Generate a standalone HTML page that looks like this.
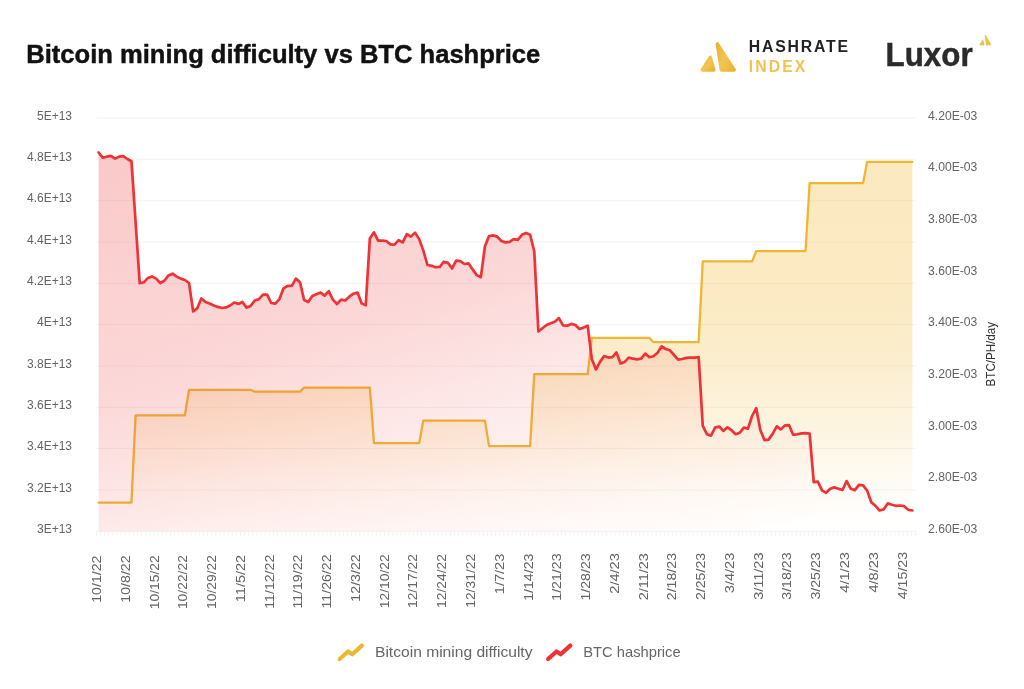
<!DOCTYPE html>
<html><head><meta charset="utf-8"><title>Bitcoin mining difficulty vs BTC hashprice</title>
<style>
html,body{margin:0;padding:0;background:#fff;}
body{width:1024px;height:689px;overflow:hidden;}
svg{display:block;font-family:"Liberation Sans",Arial,sans-serif;}
</style></head><body>
<svg width="1024" height="689" viewBox="0 0 1024 689">
<defs>
<linearGradient id="gy" gradientUnits="userSpaceOnUse" x1="0" y1="161" x2="0" y2="531">
<stop offset="0" stop-color="#f2c04a" stop-opacity="0.35"/>
<stop offset="0.376" stop-color="#f2c04a" stop-opacity="0.33"/>
<stop offset="0.54" stop-color="#f2c04a" stop-opacity="0.27"/>
<stop offset="0.73" stop-color="#f2c04a" stop-opacity="0.16"/>
<stop offset="0.865" stop-color="#f2c04a" stop-opacity="0.055"/>
<stop offset="1" stop-color="#f2c04a" stop-opacity="0"/>
</linearGradient>
<linearGradient id="gr" gradientUnits="userSpaceOnUse" x1="98" y1="152" x2="272" y2="728">
<stop offset="0" stop-color="#ef4444" stop-opacity="0.29"/>
<stop offset="0.4" stop-color="#ef4444" stop-opacity="0.21"/>
<stop offset="0.58" stop-color="#ef4444" stop-opacity="0.12"/>
<stop offset="0.75" stop-color="#ef4444" stop-opacity="0.05"/>
<stop offset="0.93" stop-color="#ef4444" stop-opacity="0"/>
</linearGradient>
<linearGradient id="lg" x1="0" y1="0" x2="1" y2="1"><stop offset="0" stop-color="#eab42c"/><stop offset="0.5" stop-color="#f1c556"/><stop offset="1" stop-color="#ebb32a"/></linearGradient>
</defs>
<rect width="1024" height="689" fill="#fff"/>
<text x="26.3" y="63.2" font-size="25" font-weight="700" fill="#111" stroke="#111" stroke-width="0.45" textLength="514" lengthAdjust="spacingAndGlyphs">Bitcoin mining difficulty vs BTC hashprice</text>
<g fill="url(#lg)" stroke="url(#lg)" stroke-width="3.4" stroke-linejoin="round">
<path d="M710.3,57.3 L702.3,70.0 L713.8,70.0 Z"/>
<path d="M717.3,43.9 L721.3,70.0 L734.2,70.0 Z"/>
</g>
<text x="748.8" y="51.7" font-size="15.8" font-weight="700" fill="#222" textLength="99.3" lengthAdjust="spacing">HASHRATE</text>
<text x="748.8" y="71.8" font-size="15.8" font-weight="700" fill="#f0c24e" textLength="56.6" lengthAdjust="spacing">INDEX</text>
<text x="885.6" y="65.7" font-size="33.5" font-weight="700" fill="#2b2b2b" stroke="#2b2b2b" stroke-width="0.5" textLength="87" lengthAdjust="spacingAndGlyphs">Luxor</text>
<g fill="#efbf45" stroke="#efbf45" stroke-width="1" stroke-linejoin="round">
<path d="M982.8,40.3 L979.8,44.8 L984.0,44.8 Z"/>
<path d="M985.3,35.2 L986.5,44.8 L990.8,44.8 Z"/>
</g>
<g stroke="#f3f3f3" stroke-width="1"><line x1="96.4" x2="915.5" y1="118.00" y2="118.00"/><line x1="96.4" x2="915.5" y1="159.33" y2="159.33"/><line x1="96.4" x2="915.5" y1="200.66" y2="200.66"/><line x1="96.4" x2="915.5" y1="241.99" y2="241.99"/><line x1="96.4" x2="915.5" y1="283.32" y2="283.32"/><line x1="96.4" x2="915.5" y1="324.65" y2="324.65"/><line x1="96.4" x2="915.5" y1="365.98" y2="365.98"/><line x1="96.4" x2="915.5" y1="407.31" y2="407.31"/><line x1="96.4" x2="915.5" y1="448.64" y2="448.64"/><line x1="96.4" x2="915.5" y1="489.97" y2="489.97"/><line x1="96.4" x2="915.5" y1="531.30" y2="531.30"/></g>
<g stroke="#f1f1f1" stroke-width="1"><line x1="96.40" x2="96.40" y1="531.3" y2="535.5"/><line x1="100.52" x2="100.52" y1="531.3" y2="535.5"/><line x1="104.63" x2="104.63" y1="531.3" y2="535.5"/><line x1="108.75" x2="108.75" y1="531.3" y2="535.5"/><line x1="112.86" x2="112.86" y1="531.3" y2="535.5"/><line x1="116.98" x2="116.98" y1="531.3" y2="535.5"/><line x1="121.10" x2="121.10" y1="531.3" y2="535.5"/><line x1="125.21" x2="125.21" y1="531.3" y2="535.5"/><line x1="129.33" x2="129.33" y1="531.3" y2="535.5"/><line x1="133.44" x2="133.44" y1="531.3" y2="535.5"/><line x1="137.56" x2="137.56" y1="531.3" y2="535.5"/><line x1="141.68" x2="141.68" y1="531.3" y2="535.5"/><line x1="145.79" x2="145.79" y1="531.3" y2="535.5"/><line x1="149.91" x2="149.91" y1="531.3" y2="535.5"/><line x1="154.02" x2="154.02" y1="531.3" y2="535.5"/><line x1="158.14" x2="158.14" y1="531.3" y2="535.5"/><line x1="162.26" x2="162.26" y1="531.3" y2="535.5"/><line x1="166.37" x2="166.37" y1="531.3" y2="535.5"/><line x1="170.49" x2="170.49" y1="531.3" y2="535.5"/><line x1="174.60" x2="174.60" y1="531.3" y2="535.5"/><line x1="178.72" x2="178.72" y1="531.3" y2="535.5"/><line x1="182.84" x2="182.84" y1="531.3" y2="535.5"/><line x1="186.95" x2="186.95" y1="531.3" y2="535.5"/><line x1="191.07" x2="191.07" y1="531.3" y2="535.5"/><line x1="195.18" x2="195.18" y1="531.3" y2="535.5"/><line x1="199.30" x2="199.30" y1="531.3" y2="535.5"/><line x1="203.42" x2="203.42" y1="531.3" y2="535.5"/><line x1="207.53" x2="207.53" y1="531.3" y2="535.5"/><line x1="211.65" x2="211.65" y1="531.3" y2="535.5"/><line x1="215.76" x2="215.76" y1="531.3" y2="535.5"/><line x1="219.88" x2="219.88" y1="531.3" y2="535.5"/><line x1="224.00" x2="224.00" y1="531.3" y2="535.5"/><line x1="228.11" x2="228.11" y1="531.3" y2="535.5"/><line x1="232.23" x2="232.23" y1="531.3" y2="535.5"/><line x1="236.34" x2="236.34" y1="531.3" y2="535.5"/><line x1="240.46" x2="240.46" y1="531.3" y2="535.5"/><line x1="244.58" x2="244.58" y1="531.3" y2="535.5"/><line x1="248.69" x2="248.69" y1="531.3" y2="535.5"/><line x1="252.81" x2="252.81" y1="531.3" y2="535.5"/><line x1="256.92" x2="256.92" y1="531.3" y2="535.5"/><line x1="261.04" x2="261.04" y1="531.3" y2="535.5"/><line x1="265.16" x2="265.16" y1="531.3" y2="535.5"/><line x1="269.27" x2="269.27" y1="531.3" y2="535.5"/><line x1="273.39" x2="273.39" y1="531.3" y2="535.5"/><line x1="277.50" x2="277.50" y1="531.3" y2="535.5"/><line x1="281.62" x2="281.62" y1="531.3" y2="535.5"/><line x1="285.74" x2="285.74" y1="531.3" y2="535.5"/><line x1="289.85" x2="289.85" y1="531.3" y2="535.5"/><line x1="293.97" x2="293.97" y1="531.3" y2="535.5"/><line x1="298.08" x2="298.08" y1="531.3" y2="535.5"/><line x1="302.20" x2="302.20" y1="531.3" y2="535.5"/><line x1="306.32" x2="306.32" y1="531.3" y2="535.5"/><line x1="310.43" x2="310.43" y1="531.3" y2="535.5"/><line x1="314.55" x2="314.55" y1="531.3" y2="535.5"/><line x1="318.66" x2="318.66" y1="531.3" y2="535.5"/><line x1="322.78" x2="322.78" y1="531.3" y2="535.5"/><line x1="326.90" x2="326.90" y1="531.3" y2="535.5"/><line x1="331.01" x2="331.01" y1="531.3" y2="535.5"/><line x1="335.13" x2="335.13" y1="531.3" y2="535.5"/><line x1="339.24" x2="339.24" y1="531.3" y2="535.5"/><line x1="343.36" x2="343.36" y1="531.3" y2="535.5"/><line x1="347.48" x2="347.48" y1="531.3" y2="535.5"/><line x1="351.59" x2="351.59" y1="531.3" y2="535.5"/><line x1="355.71" x2="355.71" y1="531.3" y2="535.5"/><line x1="359.82" x2="359.82" y1="531.3" y2="535.5"/><line x1="363.94" x2="363.94" y1="531.3" y2="535.5"/><line x1="368.06" x2="368.06" y1="531.3" y2="535.5"/><line x1="372.17" x2="372.17" y1="531.3" y2="535.5"/><line x1="376.29" x2="376.29" y1="531.3" y2="535.5"/><line x1="380.40" x2="380.40" y1="531.3" y2="535.5"/><line x1="384.52" x2="384.52" y1="531.3" y2="535.5"/><line x1="388.64" x2="388.64" y1="531.3" y2="535.5"/><line x1="392.75" x2="392.75" y1="531.3" y2="535.5"/><line x1="396.87" x2="396.87" y1="531.3" y2="535.5"/><line x1="400.98" x2="400.98" y1="531.3" y2="535.5"/><line x1="405.10" x2="405.10" y1="531.3" y2="535.5"/><line x1="409.22" x2="409.22" y1="531.3" y2="535.5"/><line x1="413.33" x2="413.33" y1="531.3" y2="535.5"/><line x1="417.45" x2="417.45" y1="531.3" y2="535.5"/><line x1="421.56" x2="421.56" y1="531.3" y2="535.5"/><line x1="425.68" x2="425.68" y1="531.3" y2="535.5"/><line x1="429.80" x2="429.80" y1="531.3" y2="535.5"/><line x1="433.91" x2="433.91" y1="531.3" y2="535.5"/><line x1="438.03" x2="438.03" y1="531.3" y2="535.5"/><line x1="442.14" x2="442.14" y1="531.3" y2="535.5"/><line x1="446.26" x2="446.26" y1="531.3" y2="535.5"/><line x1="450.38" x2="450.38" y1="531.3" y2="535.5"/><line x1="454.49" x2="454.49" y1="531.3" y2="535.5"/><line x1="458.61" x2="458.61" y1="531.3" y2="535.5"/><line x1="462.72" x2="462.72" y1="531.3" y2="535.5"/><line x1="466.84" x2="466.84" y1="531.3" y2="535.5"/><line x1="470.96" x2="470.96" y1="531.3" y2="535.5"/><line x1="475.07" x2="475.07" y1="531.3" y2="535.5"/><line x1="479.19" x2="479.19" y1="531.3" y2="535.5"/><line x1="483.30" x2="483.30" y1="531.3" y2="535.5"/><line x1="487.42" x2="487.42" y1="531.3" y2="535.5"/><line x1="491.54" x2="491.54" y1="531.3" y2="535.5"/><line x1="495.65" x2="495.65" y1="531.3" y2="535.5"/><line x1="499.77" x2="499.77" y1="531.3" y2="535.5"/><line x1="503.88" x2="503.88" y1="531.3" y2="535.5"/><line x1="508.00" x2="508.00" y1="531.3" y2="535.5"/><line x1="512.12" x2="512.12" y1="531.3" y2="535.5"/><line x1="516.23" x2="516.23" y1="531.3" y2="535.5"/><line x1="520.35" x2="520.35" y1="531.3" y2="535.5"/><line x1="524.46" x2="524.46" y1="531.3" y2="535.5"/><line x1="528.58" x2="528.58" y1="531.3" y2="535.5"/><line x1="532.70" x2="532.70" y1="531.3" y2="535.5"/><line x1="536.81" x2="536.81" y1="531.3" y2="535.5"/><line x1="540.93" x2="540.93" y1="531.3" y2="535.5"/><line x1="545.04" x2="545.04" y1="531.3" y2="535.5"/><line x1="549.16" x2="549.16" y1="531.3" y2="535.5"/><line x1="553.28" x2="553.28" y1="531.3" y2="535.5"/><line x1="557.39" x2="557.39" y1="531.3" y2="535.5"/><line x1="561.51" x2="561.51" y1="531.3" y2="535.5"/><line x1="565.62" x2="565.62" y1="531.3" y2="535.5"/><line x1="569.74" x2="569.74" y1="531.3" y2="535.5"/><line x1="573.86" x2="573.86" y1="531.3" y2="535.5"/><line x1="577.97" x2="577.97" y1="531.3" y2="535.5"/><line x1="582.09" x2="582.09" y1="531.3" y2="535.5"/><line x1="586.20" x2="586.20" y1="531.3" y2="535.5"/><line x1="590.32" x2="590.32" y1="531.3" y2="535.5"/><line x1="594.44" x2="594.44" y1="531.3" y2="535.5"/><line x1="598.55" x2="598.55" y1="531.3" y2="535.5"/><line x1="602.67" x2="602.67" y1="531.3" y2="535.5"/><line x1="606.78" x2="606.78" y1="531.3" y2="535.5"/><line x1="610.90" x2="610.90" y1="531.3" y2="535.5"/><line x1="615.02" x2="615.02" y1="531.3" y2="535.5"/><line x1="619.13" x2="619.13" y1="531.3" y2="535.5"/><line x1="623.25" x2="623.25" y1="531.3" y2="535.5"/><line x1="627.36" x2="627.36" y1="531.3" y2="535.5"/><line x1="631.48" x2="631.48" y1="531.3" y2="535.5"/><line x1="635.60" x2="635.60" y1="531.3" y2="535.5"/><line x1="639.71" x2="639.71" y1="531.3" y2="535.5"/><line x1="643.83" x2="643.83" y1="531.3" y2="535.5"/><line x1="647.94" x2="647.94" y1="531.3" y2="535.5"/><line x1="652.06" x2="652.06" y1="531.3" y2="535.5"/><line x1="656.18" x2="656.18" y1="531.3" y2="535.5"/><line x1="660.29" x2="660.29" y1="531.3" y2="535.5"/><line x1="664.41" x2="664.41" y1="531.3" y2="535.5"/><line x1="668.52" x2="668.52" y1="531.3" y2="535.5"/><line x1="672.64" x2="672.64" y1="531.3" y2="535.5"/><line x1="676.76" x2="676.76" y1="531.3" y2="535.5"/><line x1="680.87" x2="680.87" y1="531.3" y2="535.5"/><line x1="684.99" x2="684.99" y1="531.3" y2="535.5"/><line x1="689.10" x2="689.10" y1="531.3" y2="535.5"/><line x1="693.22" x2="693.22" y1="531.3" y2="535.5"/><line x1="697.34" x2="697.34" y1="531.3" y2="535.5"/><line x1="701.45" x2="701.45" y1="531.3" y2="535.5"/><line x1="705.57" x2="705.57" y1="531.3" y2="535.5"/><line x1="709.68" x2="709.68" y1="531.3" y2="535.5"/><line x1="713.80" x2="713.80" y1="531.3" y2="535.5"/><line x1="717.92" x2="717.92" y1="531.3" y2="535.5"/><line x1="722.03" x2="722.03" y1="531.3" y2="535.5"/><line x1="726.15" x2="726.15" y1="531.3" y2="535.5"/><line x1="730.26" x2="730.26" y1="531.3" y2="535.5"/><line x1="734.38" x2="734.38" y1="531.3" y2="535.5"/><line x1="738.50" x2="738.50" y1="531.3" y2="535.5"/><line x1="742.61" x2="742.61" y1="531.3" y2="535.5"/><line x1="746.73" x2="746.73" y1="531.3" y2="535.5"/><line x1="750.84" x2="750.84" y1="531.3" y2="535.5"/><line x1="754.96" x2="754.96" y1="531.3" y2="535.5"/><line x1="759.08" x2="759.08" y1="531.3" y2="535.5"/><line x1="763.19" x2="763.19" y1="531.3" y2="535.5"/><line x1="767.31" x2="767.31" y1="531.3" y2="535.5"/><line x1="771.42" x2="771.42" y1="531.3" y2="535.5"/><line x1="775.54" x2="775.54" y1="531.3" y2="535.5"/><line x1="779.66" x2="779.66" y1="531.3" y2="535.5"/><line x1="783.77" x2="783.77" y1="531.3" y2="535.5"/><line x1="787.89" x2="787.89" y1="531.3" y2="535.5"/><line x1="792.00" x2="792.00" y1="531.3" y2="535.5"/><line x1="796.12" x2="796.12" y1="531.3" y2="535.5"/><line x1="800.24" x2="800.24" y1="531.3" y2="535.5"/><line x1="804.35" x2="804.35" y1="531.3" y2="535.5"/><line x1="808.47" x2="808.47" y1="531.3" y2="535.5"/><line x1="812.58" x2="812.58" y1="531.3" y2="535.5"/><line x1="816.70" x2="816.70" y1="531.3" y2="535.5"/><line x1="820.82" x2="820.82" y1="531.3" y2="535.5"/><line x1="824.93" x2="824.93" y1="531.3" y2="535.5"/><line x1="829.05" x2="829.05" y1="531.3" y2="535.5"/><line x1="833.16" x2="833.16" y1="531.3" y2="535.5"/><line x1="837.28" x2="837.28" y1="531.3" y2="535.5"/><line x1="841.40" x2="841.40" y1="531.3" y2="535.5"/><line x1="845.51" x2="845.51" y1="531.3" y2="535.5"/><line x1="849.63" x2="849.63" y1="531.3" y2="535.5"/><line x1="853.74" x2="853.74" y1="531.3" y2="535.5"/><line x1="857.86" x2="857.86" y1="531.3" y2="535.5"/><line x1="861.98" x2="861.98" y1="531.3" y2="535.5"/><line x1="866.09" x2="866.09" y1="531.3" y2="535.5"/><line x1="870.21" x2="870.21" y1="531.3" y2="535.5"/><line x1="874.32" x2="874.32" y1="531.3" y2="535.5"/><line x1="878.44" x2="878.44" y1="531.3" y2="535.5"/><line x1="882.56" x2="882.56" y1="531.3" y2="535.5"/><line x1="886.67" x2="886.67" y1="531.3" y2="535.5"/><line x1="890.79" x2="890.79" y1="531.3" y2="535.5"/><line x1="894.90" x2="894.90" y1="531.3" y2="535.5"/><line x1="899.02" x2="899.02" y1="531.3" y2="535.5"/><line x1="903.14" x2="903.14" y1="531.3" y2="535.5"/><line x1="907.25" x2="907.25" y1="531.3" y2="535.5"/><line x1="911.37" x2="911.37" y1="531.3" y2="535.5"/><line x1="915.48" x2="915.48" y1="531.3" y2="535.5"/></g>
<path d="M98.60,502.6 L102.71,502.6 L106.82,502.6 L110.93,502.6 L115.04,502.6 L119.15,502.6 L123.26,502.6 L127.37,502.6 L131.48,502.6 L135.59,415.3 L139.70,415.3 L143.81,415.3 L147.92,415.3 L152.03,415.3 L156.14,415.3 L160.25,415.3 L164.36,415.3 L168.47,415.3 L172.58,415.3 L176.69,415.3 L180.80,415.3 L184.91,415.3 L189.02,389.8 L193.13,389.8 L197.24,389.8 L201.35,389.8 L205.46,389.8 L209.57,389.8 L213.68,389.8 L217.79,389.8 L221.90,389.8 L226.01,389.8 L230.12,389.8 L234.23,389.8 L238.34,389.8 L242.45,389.8 L246.56,389.8 L250.67,389.8 L254.78,391.7 L258.89,391.7 L263.00,391.7 L267.11,391.7 L271.22,391.7 L275.33,391.7 L279.44,391.7 L283.55,391.7 L287.66,391.7 L291.77,391.7 L295.88,391.7 L299.99,391.7 L304.10,387.6 L308.21,387.6 L312.32,387.6 L316.43,387.6 L320.54,387.6 L324.65,387.6 L328.76,387.6 L332.87,387.6 L336.98,387.6 L341.09,387.6 L345.20,387.6 L349.31,387.6 L353.42,387.6 L357.53,387.6 L361.64,387.6 L365.75,387.6 L369.86,387.6 L373.97,443.1 L378.08,443.1 L382.19,443.1 L386.30,443.1 L390.41,443.1 L394.52,443.1 L398.63,443.1 L402.74,443.1 L406.85,443.1 L410.96,443.1 L415.07,443.1 L419.18,443.1 L423.29,420.6 L427.40,420.6 L431.51,420.6 L435.62,420.6 L439.73,420.6 L443.84,420.6 L447.95,420.6 L452.06,420.6 L456.17,420.6 L460.28,420.6 L464.39,420.6 L468.50,420.6 L472.61,420.6 L476.72,420.6 L480.83,420.6 L484.94,420.6 L489.05,446.1 L493.16,446.1 L497.27,446.1 L501.38,446.1 L505.49,446.1 L509.60,446.1 L513.71,446.1 L517.82,446.1 L521.93,446.1 L526.04,446.1 L530.15,446.1 L534.26,374.2 L538.37,374.2 L542.48,374.2 L546.59,374.2 L550.70,374.2 L554.81,374.2 L558.92,374.2 L563.03,374.2 L567.14,374.2 L571.25,374.2 L575.36,374.2 L579.47,374.2 L583.58,374.2 L587.69,374.2 L591.80,337.8 L595.91,337.8 L600.02,337.8 L604.13,337.8 L608.24,337.8 L612.35,337.8 L616.46,337.8 L620.57,337.8 L624.68,337.8 L628.79,337.8 L632.90,337.8 L637.01,337.8 L641.12,337.8 L645.23,337.8 L649.34,337.8 L653.45,342.2 L657.56,342.2 L661.67,342.2 L665.78,342.2 L669.89,342.2 L674.00,342.2 L678.11,342.2 L682.22,342.2 L686.33,342.2 L690.44,342.2 L694.55,342.2 L698.66,342.2 L702.77,261.4 L706.88,261.4 L710.99,261.4 L715.10,261.4 L719.21,261.4 L723.32,261.4 L727.43,261.4 L731.54,261.4 L735.65,261.4 L739.76,261.4 L743.87,261.4 L747.98,261.4 L752.09,261.4 L756.20,251.2 L760.31,251.2 L764.42,251.2 L768.53,251.2 L772.64,251.2 L776.75,251.2 L780.86,251.2 L784.97,251.2 L789.08,251.2 L793.19,251.2 L797.30,251.2 L801.41,251.2 L805.52,251.2 L809.63,183.1 L813.74,183.1 L817.85,183.1 L821.96,183.1 L826.07,183.1 L830.18,183.1 L834.29,183.1 L838.40,183.1 L842.51,183.1 L846.62,183.1 L850.73,183.1 L854.84,183.1 L858.95,183.1 L863.06,183.1 L867.17,161.8 L871.28,161.8 L875.39,161.8 L879.50,161.8 L883.61,161.8 L887.72,161.8 L891.83,161.8 L895.94,161.8 L900.05,161.8 L904.16,161.8 L908.27,161.8 L912.38,161.8 L912.38,531.3 L98.60,531.3 Z" fill="url(#gy)"/>
<path d="M98.60,502.6 L102.71,502.6 L106.82,502.6 L110.93,502.6 L115.04,502.6 L119.15,502.6 L123.26,502.6 L127.37,502.6 L131.48,502.6 L135.59,415.3 L139.70,415.3 L143.81,415.3 L147.92,415.3 L152.03,415.3 L156.14,415.3 L160.25,415.3 L164.36,415.3 L168.47,415.3 L172.58,415.3 L176.69,415.3 L180.80,415.3 L184.91,415.3 L189.02,389.8 L193.13,389.8 L197.24,389.8 L201.35,389.8 L205.46,389.8 L209.57,389.8 L213.68,389.8 L217.79,389.8 L221.90,389.8 L226.01,389.8 L230.12,389.8 L234.23,389.8 L238.34,389.8 L242.45,389.8 L246.56,389.8 L250.67,389.8 L254.78,391.7 L258.89,391.7 L263.00,391.7 L267.11,391.7 L271.22,391.7 L275.33,391.7 L279.44,391.7 L283.55,391.7 L287.66,391.7 L291.77,391.7 L295.88,391.7 L299.99,391.7 L304.10,387.6 L308.21,387.6 L312.32,387.6 L316.43,387.6 L320.54,387.6 L324.65,387.6 L328.76,387.6 L332.87,387.6 L336.98,387.6 L341.09,387.6 L345.20,387.6 L349.31,387.6 L353.42,387.6 L357.53,387.6 L361.64,387.6 L365.75,387.6 L369.86,387.6 L373.97,443.1 L378.08,443.1 L382.19,443.1 L386.30,443.1 L390.41,443.1 L394.52,443.1 L398.63,443.1 L402.74,443.1 L406.85,443.1 L410.96,443.1 L415.07,443.1 L419.18,443.1 L423.29,420.6 L427.40,420.6 L431.51,420.6 L435.62,420.6 L439.73,420.6 L443.84,420.6 L447.95,420.6 L452.06,420.6 L456.17,420.6 L460.28,420.6 L464.39,420.6 L468.50,420.6 L472.61,420.6 L476.72,420.6 L480.83,420.6 L484.94,420.6 L489.05,446.1 L493.16,446.1 L497.27,446.1 L501.38,446.1 L505.49,446.1 L509.60,446.1 L513.71,446.1 L517.82,446.1 L521.93,446.1 L526.04,446.1 L530.15,446.1 L534.26,374.2 L538.37,374.2 L542.48,374.2 L546.59,374.2 L550.70,374.2 L554.81,374.2 L558.92,374.2 L563.03,374.2 L567.14,374.2 L571.25,374.2 L575.36,374.2 L579.47,374.2 L583.58,374.2 L587.69,374.2 L591.80,337.8 L595.91,337.8 L600.02,337.8 L604.13,337.8 L608.24,337.8 L612.35,337.8 L616.46,337.8 L620.57,337.8 L624.68,337.8 L628.79,337.8 L632.90,337.8 L637.01,337.8 L641.12,337.8 L645.23,337.8 L649.34,337.8 L653.45,342.2 L657.56,342.2 L661.67,342.2 L665.78,342.2 L669.89,342.2 L674.00,342.2 L678.11,342.2 L682.22,342.2 L686.33,342.2 L690.44,342.2 L694.55,342.2 L698.66,342.2 L702.77,261.4 L706.88,261.4 L710.99,261.4 L715.10,261.4 L719.21,261.4 L723.32,261.4 L727.43,261.4 L731.54,261.4 L735.65,261.4 L739.76,261.4 L743.87,261.4 L747.98,261.4 L752.09,261.4 L756.20,251.2 L760.31,251.2 L764.42,251.2 L768.53,251.2 L772.64,251.2 L776.75,251.2 L780.86,251.2 L784.97,251.2 L789.08,251.2 L793.19,251.2 L797.30,251.2 L801.41,251.2 L805.52,251.2 L809.63,183.1 L813.74,183.1 L817.85,183.1 L821.96,183.1 L826.07,183.1 L830.18,183.1 L834.29,183.1 L838.40,183.1 L842.51,183.1 L846.62,183.1 L850.73,183.1 L854.84,183.1 L858.95,183.1 L863.06,183.1 L867.17,161.8 L871.28,161.8 L875.39,161.8 L879.50,161.8 L883.61,161.8 L887.72,161.8 L891.83,161.8 L895.94,161.8 L900.05,161.8 L904.16,161.8 L908.27,161.8 L912.38,161.8" fill="none" stroke="#eeb733" stroke-width="2.3" stroke-linejoin="round" stroke-linecap="round"/>
<path d="M98.60,152.5 L102.71,157.6 L106.82,156.7 L110.93,155.9 L115.04,158.6 L119.15,156.6 L123.26,156.1 L127.37,159.0 L131.48,161.3 L135.59,222.0 L139.70,283.2 L143.81,282.3 L147.92,277.9 L152.03,276.4 L156.14,278.6 L160.25,283.0 L164.36,280.8 L168.47,275.4 L172.58,273.7 L176.69,276.6 L180.80,278.6 L184.91,280.0 L189.02,283.0 L193.13,311.3 L197.24,308.3 L201.35,298.4 L205.46,302.0 L209.57,303.5 L213.68,305.4 L217.79,306.9 L221.90,308.0 L226.01,307.4 L230.12,305.5 L234.23,302.5 L238.34,303.9 L242.45,302.0 L246.56,307.6 L250.67,305.9 L254.78,300.5 L258.89,299.1 L263.00,294.7 L267.11,294.7 L271.22,303.0 L275.33,303.7 L279.44,299.1 L283.55,288.3 L287.66,285.9 L291.77,285.9 L295.88,278.6 L299.99,282.3 L304.10,300.0 L308.21,302.0 L312.32,296.1 L316.43,294.2 L320.54,292.6 L324.65,295.7 L328.76,291.1 L332.87,299.6 L336.98,304.0 L341.09,299.6 L345.20,300.5 L349.31,296.7 L353.42,293.7 L357.53,292.6 L361.64,303.4 L365.75,305.4 L369.86,238.4 L373.97,232.3 L378.08,240.6 L382.19,240.6 L386.30,241.0 L390.41,244.4 L394.52,244.7 L398.63,240.2 L402.74,242.4 L406.85,234.1 L410.96,236.6 L415.07,232.6 L419.18,239.1 L423.29,250.4 L427.40,265.0 L431.51,265.8 L435.62,267.2 L439.73,267.0 L443.84,261.7 L447.95,262.9 L452.06,268.5 L456.17,260.7 L460.28,261.1 L464.39,264.0 L468.50,263.3 L472.61,269.4 L476.72,275.1 L480.83,277.2 L484.94,246.3 L489.05,236.0 L493.16,235.4 L497.27,236.6 L501.38,241.0 L505.49,242.4 L509.60,241.8 L513.71,239.2 L517.82,239.9 L521.93,234.8 L526.04,233.0 L530.15,234.8 L534.26,251.5 L538.37,331.5 L542.48,328.3 L546.59,325.0 L550.70,323.2 L554.81,321.8 L558.92,318.1 L563.03,325.4 L567.14,325.7 L571.25,323.9 L575.36,325.0 L579.47,329.0 L583.58,327.6 L587.69,325.7 L591.80,359.0 L595.91,369.5 L600.02,361.9 L604.13,356.1 L608.24,357.6 L612.35,357.2 L616.46,352.5 L620.57,363.4 L624.68,361.9 L628.79,357.6 L632.90,358.7 L637.01,359.4 L641.12,358.7 L645.23,353.6 L649.34,357.2 L653.45,356.3 L657.56,352.8 L661.67,346.3 L665.78,349.0 L669.89,350.3 L674.00,355.0 L678.11,359.7 L682.22,359.0 L686.33,357.9 L690.44,357.6 L694.55,357.6 L698.66,357.2 L702.77,425.8 L706.88,434.2 L710.99,435.6 L715.10,427.6 L719.21,426.5 L723.32,430.9 L727.43,427.3 L731.54,430.2 L735.65,434.2 L739.76,432.7 L743.87,427.6 L747.98,428.7 L752.09,416.0 L756.20,408.1 L760.31,430.0 L764.42,440.1 L768.53,439.6 L772.64,433.9 L776.75,426.3 L780.86,429.4 L784.97,425.4 L789.08,425.2 L793.19,434.7 L797.30,434.3 L801.41,433.4 L805.52,433.1 L809.63,433.6 L813.74,482.2 L817.85,481.6 L821.96,490.4 L826.07,492.8 L830.18,488.7 L834.29,487.4 L838.40,488.7 L842.51,490.0 L846.62,481.1 L850.73,488.7 L854.84,490.1 L858.95,484.9 L863.06,485.3 L867.17,490.6 L871.28,502.2 L875.39,505.8 L879.50,510.5 L883.61,509.4 L887.72,503.4 L891.83,504.7 L895.94,505.8 L900.05,505.5 L904.16,506.2 L908.27,509.8 L912.38,510.5 L912.38,531.3 L98.60,531.3 Z" fill="url(#gr)"/>
<path d="M98.60,152.5 L102.71,157.6 L106.82,156.7 L110.93,155.9 L115.04,158.6 L119.15,156.6 L123.26,156.1 L127.37,159.0 L131.48,161.3 L135.59,222.0 L139.70,283.2 L143.81,282.3 L147.92,277.9 L152.03,276.4 L156.14,278.6 L160.25,283.0 L164.36,280.8 L168.47,275.4 L172.58,273.7 L176.69,276.6 L180.80,278.6 L184.91,280.0 L189.02,283.0 L193.13,311.3 L197.24,308.3 L201.35,298.4 L205.46,302.0 L209.57,303.5 L213.68,305.4 L217.79,306.9 L221.90,308.0 L226.01,307.4 L230.12,305.5 L234.23,302.5 L238.34,303.9 L242.45,302.0 L246.56,307.6 L250.67,305.9 L254.78,300.5 L258.89,299.1 L263.00,294.7 L267.11,294.7 L271.22,303.0 L275.33,303.7 L279.44,299.1 L283.55,288.3 L287.66,285.9 L291.77,285.9 L295.88,278.6 L299.99,282.3 L304.10,300.0 L308.21,302.0 L312.32,296.1 L316.43,294.2 L320.54,292.6 L324.65,295.7 L328.76,291.1 L332.87,299.6 L336.98,304.0 L341.09,299.6 L345.20,300.5 L349.31,296.7 L353.42,293.7 L357.53,292.6 L361.64,303.4 L365.75,305.4 L369.86,238.4 L373.97,232.3 L378.08,240.6 L382.19,240.6 L386.30,241.0 L390.41,244.4 L394.52,244.7 L398.63,240.2 L402.74,242.4 L406.85,234.1 L410.96,236.6 L415.07,232.6 L419.18,239.1 L423.29,250.4 L427.40,265.0 L431.51,265.8 L435.62,267.2 L439.73,267.0 L443.84,261.7 L447.95,262.9 L452.06,268.5 L456.17,260.7 L460.28,261.1 L464.39,264.0 L468.50,263.3 L472.61,269.4 L476.72,275.1 L480.83,277.2 L484.94,246.3 L489.05,236.0 L493.16,235.4 L497.27,236.6 L501.38,241.0 L505.49,242.4 L509.60,241.8 L513.71,239.2 L517.82,239.9 L521.93,234.8 L526.04,233.0 L530.15,234.8 L534.26,251.5 L538.37,331.5 L542.48,328.3 L546.59,325.0 L550.70,323.2 L554.81,321.8 L558.92,318.1 L563.03,325.4 L567.14,325.7 L571.25,323.9 L575.36,325.0 L579.47,329.0 L583.58,327.6 L587.69,325.7 L591.80,359.0 L595.91,369.5 L600.02,361.9 L604.13,356.1 L608.24,357.6 L612.35,357.2 L616.46,352.5 L620.57,363.4 L624.68,361.9 L628.79,357.6 L632.90,358.7 L637.01,359.4 L641.12,358.7 L645.23,353.6 L649.34,357.2 L653.45,356.3 L657.56,352.8 L661.67,346.3 L665.78,349.0 L669.89,350.3 L674.00,355.0 L678.11,359.7 L682.22,359.0 L686.33,357.9 L690.44,357.6 L694.55,357.6 L698.66,357.2 L702.77,425.8 L706.88,434.2 L710.99,435.6 L715.10,427.6 L719.21,426.5 L723.32,430.9 L727.43,427.3 L731.54,430.2 L735.65,434.2 L739.76,432.7 L743.87,427.6 L747.98,428.7 L752.09,416.0 L756.20,408.1 L760.31,430.0 L764.42,440.1 L768.53,439.6 L772.64,433.9 L776.75,426.3 L780.86,429.4 L784.97,425.4 L789.08,425.2 L793.19,434.7 L797.30,434.3 L801.41,433.4 L805.52,433.1 L809.63,433.6 L813.74,482.2 L817.85,481.6 L821.96,490.4 L826.07,492.8 L830.18,488.7 L834.29,487.4 L838.40,488.7 L842.51,490.0 L846.62,481.1 L850.73,488.7 L854.84,490.1 L858.95,484.9 L863.06,485.3 L867.17,490.6 L871.28,502.2 L875.39,505.8 L879.50,510.5 L883.61,509.4 L887.72,503.4 L891.83,504.7 L895.94,505.8 L900.05,505.5 L904.16,506.2 L908.27,509.8 L912.38,510.5" fill="none" stroke="#ee3236" stroke-width="2.7" stroke-linejoin="round" stroke-linecap="round"/>
<g font-size="12" fill="#646464" text-anchor="end"><text x="72" y="119.70">5E+13</text><text x="72" y="161.03">4.8E+13</text><text x="72" y="202.36">4.6E+13</text><text x="72" y="243.69">4.4E+13</text><text x="72" y="285.02">4.2E+13</text><text x="72" y="326.35">4E+13</text><text x="72" y="367.68">3.8E+13</text><text x="72" y="409.01">3.6E+13</text><text x="72" y="450.34">3.4E+13</text><text x="72" y="491.67">3.2E+13</text><text x="72" y="533.00">3E+13</text></g>
<g font-size="12" fill="#646464"><text x="928" y="119.70" textLength="49.3" lengthAdjust="spacingAndGlyphs">4.20E-03</text><text x="928" y="171.36" textLength="49.3" lengthAdjust="spacingAndGlyphs">4.00E-03</text><text x="928" y="223.02" textLength="49.3" lengthAdjust="spacingAndGlyphs">3.80E-03</text><text x="928" y="274.68" textLength="49.3" lengthAdjust="spacingAndGlyphs">3.60E-03</text><text x="928" y="326.34" textLength="49.3" lengthAdjust="spacingAndGlyphs">3.40E-03</text><text x="928" y="378.00" textLength="49.3" lengthAdjust="spacingAndGlyphs">3.20E-03</text><text x="928" y="429.66" textLength="49.3" lengthAdjust="spacingAndGlyphs">3.00E-03</text><text x="928" y="481.32" textLength="49.3" lengthAdjust="spacingAndGlyphs">2.80E-03</text><text x="928" y="532.98" textLength="49.3" lengthAdjust="spacingAndGlyphs">2.60E-03</text></g>
<g font-size="12" fill="#646464" text-anchor="end"><text transform="translate(101.00,555.50) rotate(-90)" textLength="47.3" lengthAdjust="spacingAndGlyphs">10/1/22</text><text transform="translate(129.77,555.37) rotate(-90)" textLength="47.3" lengthAdjust="spacingAndGlyphs">10/8/22</text><text transform="translate(158.54,555.24) rotate(-90)" textLength="54.0" lengthAdjust="spacingAndGlyphs">10/15/22</text><text transform="translate(187.31,555.11) rotate(-90)" textLength="54.0" lengthAdjust="spacingAndGlyphs">10/22/22</text><text transform="translate(216.08,554.99) rotate(-90)" textLength="54.0" lengthAdjust="spacingAndGlyphs">10/29/22</text><text transform="translate(244.85,554.86) rotate(-90)" textLength="47.3" lengthAdjust="spacingAndGlyphs">11/5/22</text><text transform="translate(273.62,554.73) rotate(-90)" textLength="54.0" lengthAdjust="spacingAndGlyphs">11/12/22</text><text transform="translate(302.39,554.60) rotate(-90)" textLength="54.0" lengthAdjust="spacingAndGlyphs">11/19/22</text><text transform="translate(331.16,554.47) rotate(-90)" textLength="54.0" lengthAdjust="spacingAndGlyphs">11/26/22</text><text transform="translate(359.93,554.34) rotate(-90)" textLength="47.3" lengthAdjust="spacingAndGlyphs">12/3/22</text><text transform="translate(388.70,554.21) rotate(-90)" textLength="54.0" lengthAdjust="spacingAndGlyphs">12/10/22</text><text transform="translate(417.47,554.09) rotate(-90)" textLength="54.0" lengthAdjust="spacingAndGlyphs">12/17/22</text><text transform="translate(446.24,553.96) rotate(-90)" textLength="54.0" lengthAdjust="spacingAndGlyphs">12/24/22</text><text transform="translate(475.01,553.83) rotate(-90)" textLength="54.0" lengthAdjust="spacingAndGlyphs">12/31/22</text><text transform="translate(503.78,553.70) rotate(-90)" textLength="40.5" lengthAdjust="spacingAndGlyphs">1/7/23</text><text transform="translate(532.55,553.57) rotate(-90)" textLength="47.3" lengthAdjust="spacingAndGlyphs">1/14/23</text><text transform="translate(561.32,553.44) rotate(-90)" textLength="47.3" lengthAdjust="spacingAndGlyphs">1/21/23</text><text transform="translate(590.09,553.31) rotate(-90)" textLength="47.3" lengthAdjust="spacingAndGlyphs">1/28/23</text><text transform="translate(618.86,553.19) rotate(-90)" textLength="40.5" lengthAdjust="spacingAndGlyphs">2/4/23</text><text transform="translate(647.63,553.06) rotate(-90)" textLength="47.3" lengthAdjust="spacingAndGlyphs">2/11/23</text><text transform="translate(676.40,552.93) rotate(-90)" textLength="47.3" lengthAdjust="spacingAndGlyphs">2/18/23</text><text transform="translate(705.17,552.80) rotate(-90)" textLength="47.3" lengthAdjust="spacingAndGlyphs">2/25/23</text><text transform="translate(733.94,552.67) rotate(-90)" textLength="40.5" lengthAdjust="spacingAndGlyphs">3/4/23</text><text transform="translate(762.71,552.54) rotate(-90)" textLength="47.3" lengthAdjust="spacingAndGlyphs">3/11/23</text><text transform="translate(791.48,552.41) rotate(-90)" textLength="47.3" lengthAdjust="spacingAndGlyphs">3/18/23</text><text transform="translate(820.25,552.29) rotate(-90)" textLength="47.3" lengthAdjust="spacingAndGlyphs">3/25/23</text><text transform="translate(849.02,552.16) rotate(-90)" textLength="40.5" lengthAdjust="spacingAndGlyphs">4/1/23</text><text transform="translate(877.79,552.03) rotate(-90)" textLength="40.5" lengthAdjust="spacingAndGlyphs">4/8/23</text><text transform="translate(906.56,551.90) rotate(-90)" textLength="47.3" lengthAdjust="spacingAndGlyphs">4/15/23</text></g>
<text transform="translate(995.3,354.2) rotate(-90)" font-size="12" fill="#333" text-anchor="middle" textLength="64.5" lengthAdjust="spacingAndGlyphs">BTC/PH/day</text>
<path d="M339.7,659 L348.1,651.5 L352.3,654.3 L361.9,645.6" fill="none" stroke="#ecb82e" stroke-width="4.2" stroke-linecap="round" stroke-linejoin="round"/>
<text x="375" y="657.1" font-size="14.6" fill="#666" textLength="157.5" lengthAdjust="spacingAndGlyphs">Bitcoin mining difficulty</text>
<path d="M548.1,659 L556.5,651.5 L560.7,654.3 L570.3,645.6" fill="none" stroke="#ee3236" stroke-width="4.2" stroke-linecap="round" stroke-linejoin="round"/>
<text x="583.2" y="657.1" font-size="14.6" fill="#666" textLength="97.5" lengthAdjust="spacingAndGlyphs">BTC hashprice</text>
</svg>
</body></html>
